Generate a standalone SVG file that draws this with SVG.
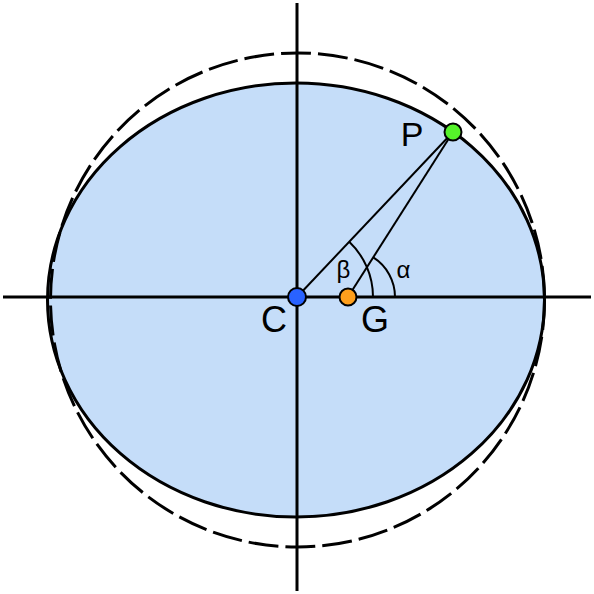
<svg xmlns="http://www.w3.org/2000/svg" width="594" height="594" viewBox="0 0 594 594">
<style>
.ax{stroke:#000;stroke-width:3;fill:none}
.thin{stroke:#000;stroke-width:2;fill:none}
.lbl{font-family:"Liberation Sans",Arial,sans-serif;fill:#000}
.dot{stroke:#000;stroke-width:2}
</style>
<rect width="594" height="594" fill="#fff"/>
<g id="ellipse"><ellipse cx="296" cy="300" rx="248.5" ry="217" fill="#C5DDF9" stroke="#000" stroke-width="3"/></g>
<g id="circle"><circle cx="297.5" cy="300" r="247" fill="none" stroke="#000" stroke-width="3" stroke-dasharray="30 7"/></g>
<g id="connectors">
<line class="ax" x1="3" y1="297" x2="591" y2="297"/>
<line class="ax" x1="297" y1="3" x2="297" y2="591"/>
<line class="thin" x1="297" y1="297" x2="453" y2="132"/>
<line class="thin" x1="348" y1="297" x2="453" y2="132"/>
<path class="thin" d="M373 297 A76 76 0 0 0 349.2 241.8"/>
<path class="thin" d="M395 297 A47 47 0 0 0 373.3 257.4"/>
</g>
<g id="labels">
<text class="lbl" x="343.5" y="278" font-size="24" text-anchor="middle">β</text>
<text class="lbl" x="403.5" y="278" font-size="24" text-anchor="middle">α</text>
<text class="lbl" x="274" y="332" font-size="36" text-anchor="middle">C</text>
<text class="lbl" x="375" y="332" font-size="36" text-anchor="middle">G</text>
<text class="lbl" x="412" y="146" font-size="34" text-anchor="middle">P</text>
</g>
<g id="C"><circle class="dot" cx="297" cy="297" r="9" fill="#2962FF"/></g>
<g id="G"><circle class="dot" cx="348" cy="297" r="8.5" fill="#FF9F1C"/></g>
<g id="P"><circle class="dot" cx="453" cy="132" r="8.5" fill="#55F22A"/></g>
</svg>
